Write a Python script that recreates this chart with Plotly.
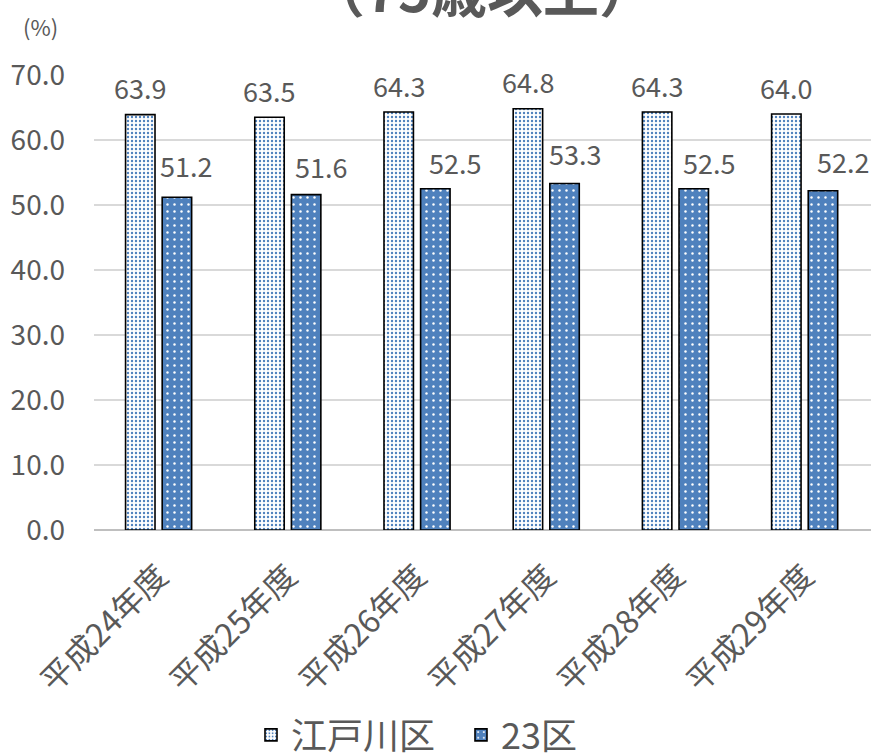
import plotly.graph_objects as go

# 後期高齢者（75歳以上）の割合：江戸川区と23区の比較
categories = ["平成24年度", "平成25年度", "平成26年度", "平成27年度", "平成28年度", "平成29年度"]
edogawa = [63.9, 63.5, 64.3, 64.8, 64.3, 64.0]
ku23 = [51.2, 51.6, 52.5, 53.3, 52.5, 52.2]
series_names = ["江戸川区", "23区"]
y_ticks = [0, 10, 20, 30, 40, 50, 60, 70]

FONT = "Noto Sans CJK JP"
GREY = "#595959"
BLUE = "#4f81bd"

# per-label nudges (px) for the 23区 value labels
ku23_label_dx = [9, 15, 20, 10, 15, 20]
ku23_label_dy = [32, 28, 26, 30, 26, 29]

W, H = 875, 753
# plot area in page pixels
PX0, PX1, PY0, PY1 = 94, 871, 75, 530


def px_x(v):
    return v / W


def px_y(v):
    return 1 - v / H


fig = go.Figure()
fig.add_trace(go.Bar(
    x=categories, y=edogawa, name=series_names[0],
    marker=dict(
        color="white",
        line=dict(color="black", width=1.6),
        pattern=dict(shape=".", bgcolor="white", fgcolor=BLUE,
                     fgopacity=1, size=4, solidity=0.28),
    ),
))
fig.add_trace(go.Bar(
    x=categories, y=ku23, name=series_names[1],
    marker=dict(
        color=BLUE,
        line=dict(color="black", width=1.6),
        pattern=dict(shape=".", bgcolor=BLUE, fgcolor="white",
                     fgopacity=1, size=7, solidity=0.1),
    ),
))

HALF_SLOT = 18.35
annotations = []
for i, cat in enumerate(categories):
    annotations.append(dict(
        x=cat, y=edogawa[i], xref="x", yref="y", text=f"{edogawa[i]:.1f}",
        showarrow=False, xshift=-HALF_SLOT, yshift=27, yanchor="middle",
        font=dict(family=FONT, size=27, color=GREY),
    ))
    annotations.append(dict(
        x=cat, y=ku23[i], xref="x", yref="y", text=f"{ku23[i]:.1f}",
        showarrow=False, xshift=HALF_SLOT + ku23_label_dx[i],
        yshift=ku23_label_dy[i], yanchor="middle",
        font=dict(family=FONT, size=27, color=GREY),
    ))

# chart title, partly above the top edge
annotations.append(dict(
    x=px_x(482), y=px_y(30), xref="paper", yref="paper",
    text="<b>（75歳以上）</b>",
    showarrow=False, xanchor="center", yanchor="bottom",
    font=dict(family=FONT, size=56, color=GREY),
))
# unit label
annotations.append(dict(
    x=px_x(40), y=px_y(26), xref="paper", yref="paper", text="(%)",
    showarrow=False, xanchor="center", yanchor="middle",
    font=dict(family=FONT, size=22, color=GREY),
))

fig.update_layout(
    width=W, height=H,
    margin=dict(l=0, r=0, t=0, b=0, autoexpand=False),
    paper_bgcolor="white", plot_bgcolor="white",
    barmode="group", bargap=0.433, bargroupgap=0.196,
    font=dict(family=FONT, color=GREY),
    annotations=annotations,
    legend=dict(
        orientation="h", x=px_x(461), xanchor="center",
        y=px_y(735), yanchor="middle",
        font=dict(family=FONT, size=36, color=GREY),
        entrywidth=165, entrywidthmode="pixels",
    ),
)
fig.update_xaxes(
    domain=[px_x(PX0), px_x(PX1)],
    tickangle=-45, tickfont=dict(family=FONT, size=32, color=GREY),
    showgrid=False, showline=False, ticks="", ticklabelstandoff=20,
    automargin=False,
)
fig.update_yaxes(
    domain=[px_y(PY1), px_y(PY0)],
    range=[0, 70], tickvals=y_ticks, tickformat=".1f",
    tickfont=dict(family=FONT, size=28, color=GREY),
    showgrid=True, gridcolor="#d9d9d9", gridwidth=1.5,
    zeroline=True, zerolinecolor="#bfbfbf", zerolinewidth=2,
    showline=False, ticks="", ticklabelstandoff=28, automargin=False,
)

fig.write_html("out.html")
